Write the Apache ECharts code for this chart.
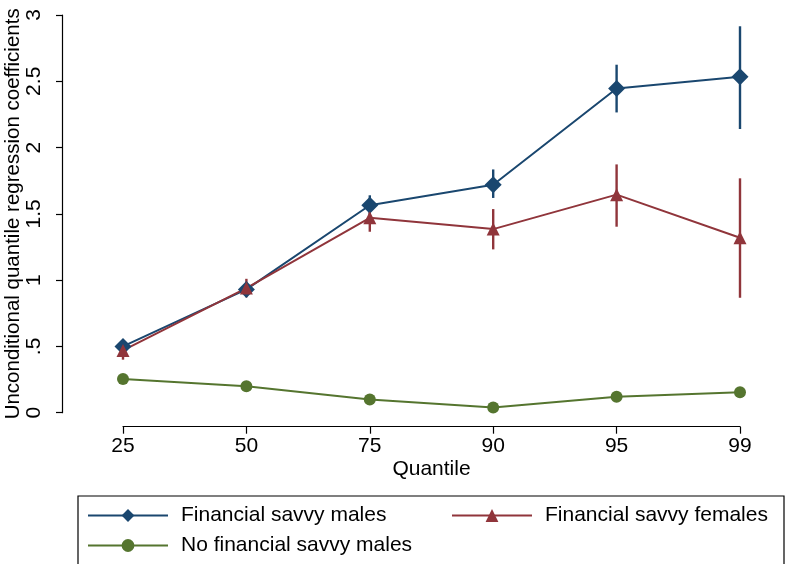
<!DOCTYPE html>
<html>
<head>
<meta charset="utf-8">
<script src="https://cdn.jsdelivr.net/npm/echarts@6/dist/echarts.min.js"></script>
<style>
  html, body { margin: 0; padding: 0; background: #fff; }
  #chart { width: 786px; height: 564px; }
</style>
</head>
<body>
<div id="chart"></div>
<script>
// Quantiles on the x axis
const quantiles = ['25', '50', '75', '90', '95', '99'];

// Coefficients per quantile
const savvyMales = [0.50, 0.93, 1.565, 1.72, 2.445, 2.535];
const savvyFemales = [0.47, 0.94, 1.47, 1.385, 1.645, 1.32];
const noSavvyMales = [0.255, 0.20, 0.10, 0.04, 0.12, 0.155];

// Confidence intervals (low, high)
const savvyMalesLow = [0.47, 0.90, 1.49, 1.62, 2.265, 2.14];
const savvyMalesHigh = [0.53, 0.97, 1.64, 1.835, 2.625, 2.915];
const savvyFemalesLow = [0.40, 0.87, 1.365, 1.232, 1.403, 0.867];
const savvyFemalesHigh = [0.54, 1.01, 1.566, 1.536, 1.873, 1.768];
const noSavvyMalesLow = [0.23, 0.18, 0.08, 0.02, 0.10, 0.13];
const noSavvyMalesHigh = [0.28, 0.22, 0.12, 0.06, 0.14, 0.18];

const yTickLabels = ['0', '.5', '1', '1.5', '2', '2.5', '3'];

const BLUE = '#1a476f';
const RED = '#90353b';
const GREEN = '#55752f';
const FONT = '"Liberation Sans", Arial, Helvetica, sans-serif';
const NAMES = ['Financial savvy males', 'Financial savvy females', 'No financial savvy males'];

const points = vals => vals.map((v, i) => [i, v]);
const ranges = (lo, hi) => lo.map((v, i) => [i, v, hi[i]]);

function errorBars(name, color, lo, hi) {
  return {
    type: 'custom',
    name: name + ' CI',
    data: ranges(lo, hi),
    z: 1,
    silent: true,
    renderItem: function (params, api) {
      const a = api.coord([api.value(0), api.value(1)]);
      const b = api.coord([api.value(0), api.value(2)]);
      return {
        type: 'line',
        shape: { x1: a[0], y1: a[1], x2: b[0], y2: b[1] },
        style: { stroke: color, lineWidth: 2.4 }
      };
    }
  };
}

function lineSeries(name, color, vals, symbol, size) {
  return {
    type: 'line',
    name: name,
    data: points(vals),
    symbol: symbol,
    symbolSize: size,
    showAllSymbol: true,
    z: 3,
    lineStyle: { color: color, width: 2 },
    itemStyle: { color: color },
    emphasis: { disabled: true }
  };
}

function legendItem(name, left, top) {
  return {
    left: left,
    top: top,
    padding: 0,
    itemWidth: 80,
    itemHeight: 16,
    selectedMode: false,
    textStyle: { fontSize: 21, color: '#000', fontFamily: FONT, padding: [0, 0, 0, 8] },
    data: [name]
  };
}

const axisText = { fontSize: 21, color: '#000', fontFamily: FONT };
const blackLine = { color: '#000', width: 1.2 };

const chart = echarts.init(document.getElementById('chart'), null, { renderer: 'canvas' });

chart.setOption({
  animation: false,
  backgroundColor: '#ffffff',
  textStyle: { fontFamily: FONT, color: '#000' },
  grid: [
    // plot region, starting at the y axis
    { left: 62, right: 46, top: 15, bottom: 151.3, containLabel: false, outerBoundsMode: 'none' },
    // quantile axis, spanning the first to last quantile only
    { left: 123, right: 46, top: 15, bottom: 151.3, containLabel: false, outerBoundsMode: 'none' }
  ],
  xAxis: [
    {
      gridIndex: 0,
      type: 'value',
      min: -0.4943,
      max: quantiles.length - 1,
      show: false
    },
    {
      gridIndex: 1,
      type: 'value',
      min: 0,
      max: quantiles.length - 1,
      interval: 1,
      offset: 14,
      name: 'Quantile',
      nameLocation: 'middle',
      nameGap: 32,
      nameMoveOverlap: false,
      nameTextStyle: axisText,
      axisLine: { show: true, onZero: false, lineStyle: blackLine },
      axisTick: { show: true, length: 7, lineStyle: blackLine },
      axisLabel: Object.assign({ margin: 9, formatter: v => quantiles[v] || '' }, axisText),
      splitLine: { show: false }
    }
  ],
  yAxis: [
    {
      gridIndex: 0,
      type: 'value',
      min: 0,
      max: 3,
      interval: 0.5,
      name: 'Unconditional quantile regression coefficients',
      nameLocation: 'middle',
      nameGap: 38,
      nameMoveOverlap: false,
      nameRotate: 90,
      nameTextStyle: { fontSize: 20.5, color: '#000', fontFamily: FONT },
      axisLine: { show: true, onZero: false, lineStyle: blackLine },
      axisTick: { show: true, length: 6, lineStyle: blackLine },
      axisLabel: Object.assign({ rotate: 90, margin: 17, formatter: v => yTickLabels[Math.round(v * 2)] }, axisText),
      splitLine: { show: false }
    },
    {
      gridIndex: 1,
      type: 'value',
      min: 0,
      max: 3,
      show: false
    }
  ],
  legend: [
    legendItem(NAMES[0], 87, 505),
    legendItem(NAMES[1], 451, 505),
    legendItem(NAMES[2], 87, 535)
  ],
  graphic: [
    {
      type: 'rect',
      silent: true,
      shape: { x: 78, y: 496, width: 706, height: 100 },
      style: { fill: 'none', stroke: '#000', lineWidth: 1.2 }
    }
  ],
  series: [
    errorBars(NAMES[0], BLUE, savvyMalesLow, savvyMalesHigh),
    errorBars(NAMES[1], RED, savvyFemalesLow, savvyFemalesHigh),
    errorBars(NAMES[2], GREEN, noSavvyMalesLow, noSavvyMalesHigh),
    lineSeries(NAMES[0], BLUE, savvyMales, 'diamond', 17),
    lineSeries(NAMES[1], RED, savvyFemales, 'triangle', 13),
    lineSeries(NAMES[2], GREEN, noSavvyMales, 'circle', 12)
  ]
});
</script>
</body>
</html>
